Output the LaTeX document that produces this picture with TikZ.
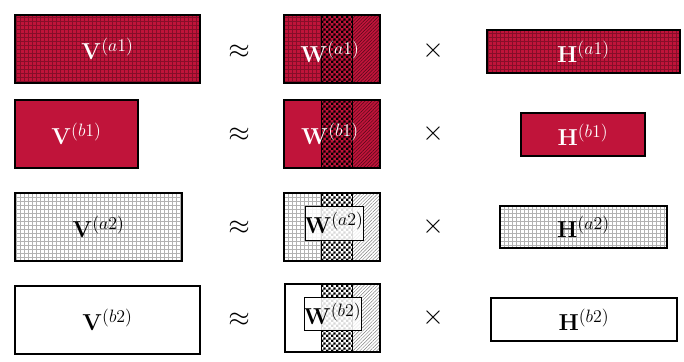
\documentclass[tikz,border=0pt]{standalone}
\usetikzlibrary{patterns,patterns.meta,fit}
\definecolor{crim}{RGB}{192,20,58}
\newcommand{\mlab}[2]{$\mathbf{#1}^{\scalebox{1.12}{$\scriptstyle(#2)$}}$}
\pgfdeclarepattern{name=smallchecker,type=uncolored,
  bottom left={\pgfpoint{0pt}{0pt}},top right={\pgfpoint{3.6pt}{3.6pt}},
  tile size={\pgfpoint{3.6pt}{3.6pt}},
  code={\pgfpathrectangle{\pgfpointorigin}{\pgfpoint{1.8pt}{1.8pt}}
        \pgfpathrectangle{\pgfpoint{1.8pt}{1.8pt}}{\pgfpoint{1.8pt}{1.8pt}}
        \pgfusepath{fill}}}
\tikzset{
  frame/.style={draw=black,line width=1.2pt,inner sep=0pt},
  redgrid/.style={preaction={fill=crim},pattern={Hatch[angle=0,distance=3pt,line width=0.3pt]},pattern color=black!30!crim},
  redplain/.style={fill=crim},
  redcheck/.style={preaction={fill=crim},pattern=smallchecker,pattern color=black},
  reddiag/.style={preaction={fill=crim},pattern={Lines[angle=45,distance=1.8pt,line width=0.35pt]},pattern color=black!60!crim},
  graygrid/.style={preaction={fill=white},pattern={Hatch[angle=0,distance=3pt,line width=0.3pt]},pattern color=black!30},
  graycheck/.style={preaction={fill=white},pattern=smallchecker,pattern color=black},
  graydiag/.style={preaction={fill=white},pattern={Lines[angle=45,distance=1.8pt,line width=0.35pt]},pattern color=black!50},
  whiteplain/.style={fill=white},
  col/.style={inner sep=0pt,draw=black,line width=0.5pt},
  wlbl/.style={text=white,font=\LARGE},
  blbl/.style={text=black,font=\LARGE},
  inbox/.style={draw=black,line width=0.7pt,fill=white,fill opacity=0.85,text opacity=1,inner sep=0pt},
  op/.style={font=\huge},
  opx/.style={font=\huge}
}
\begin{document}
\begin{tikzpicture}[x=0.75pt,y=-0.75pt]
\useasboundingbox (0,0) rectangle (684,361);
% ---------- Row 1
\node[frame,redgrid,fit={(15,15) (200,83)}] (va1) {};
\node[wlbl] at (va1.center) {\mlab{V}{a1}};
\node[col,redgrid,fit={(284,15) (321,83)}] (wa1l) {};
\node[col,redcheck,fit={(321,15) (352,83)}] (wa1m) {};
\node[col,reddiag,fit={(352,15) (380,83)}] (wa1r) {};
\node[frame,fit={(284,15) (380,83)}] (wa1) {};
\node[wlbl] at (330,52) {\mlab{W}{a1}};
\node[frame,redgrid,fit={(487,30) (680,73)}] (ha1) {};
\node[wlbl] at (ha1.center) {\mlab{H}{a1}};
\node[op] (ap1) at (239,52) {$\approx$};
\node[opx] (tm1) at (433,51) {$\times$};
% ---------- Row 2
\node[frame,redplain,fit={(15,100) (138,168)}] (vb1) {};
\node[wlbl] at (vb1.center) {\mlab{V}{b1}};
\node[col,redplain,fit={(284,100) (321,168)}] (wb1l) {};
\node[col,redcheck,fit={(321,100) (352,168)}] (wb1m) {};
\node[col,reddiag,fit={(352,100) (380,168)}] (wb1r) {};
\node[frame,fit={(284,100) (380,168)}] (wb1) {};
\node[wlbl] at (330,134) {\mlab{W}{b1}};
\node[frame,redplain,fit={(521,113) (645,156)}] (hb1) {};
\node[wlbl] at (hb1.center) {\mlab{H}{b1}};
\node[op] (ap2) at (239,135) {$\approx$};
\node[opx] (tm2) at (433,134) {$\times$};
% ---------- Row 3
\node[frame,graygrid,fit={(15,193) (182,261)}] (va2) {};
\node[blbl] at (va2.center) {\mlab{V}{a2}};
\node[col,graygrid,fit={(284,193) (321,261)}] (wa2l) {};
\node[col,graycheck,fit={(321,193) (352,261)}] (wa2m) {};
\node[col,graydiag,fit={(352,193) (380,261)}] (wa2r) {};
\node[frame,fit={(284,193) (380,261)}] (wa2) {};
\node[inbox,fit={(305,206) (363,240)}] (wa2b) {};
\node[blbl] at (wa2b.center) {\mlab{W}{a2}};
\node[frame,graygrid,fit={(500,206) (667,248)}] (ha2) {};
\node[blbl] at (ha2.center) {\mlab{H}{a2}};
\node[op] (ap3) at (239,228) {$\approx$};
\node[opx] (tm3) at (433,227) {$\times$};
% ---------- Row 4
\node[frame,whiteplain,fit={(15,286) (200,354)}] (vb2) {};
\node[blbl] at (vb2.center) {\mlab{V}{b2}};
\node[col,whiteplain,fit={(285,284) (321,352)}] (wb2l) {};
\node[col,graycheck,fit={(321,284) (352,352)}] (wb2m) {};
\node[col,graydiag,fit={(352,284) (380,352)}] (wb2r) {};
\node[frame,fit={(285,284) (380,352)}] (wb2) {};
\node[inbox,fit={(304,297) (361,330)}] (wb2b) {};
\node[blbl] at (wb2b.center) {\mlab{W}{b2}};
\node[frame,whiteplain,fit={(491,298) (677,341)}] (hb2) {};
\node[blbl] at (hb2.center) {\mlab{H}{b2}};
\node[op] (ap4) at (239,320) {$\approx$};
\node[opx] (tm4) at (433,318) {$\times$};
\end{tikzpicture}
\end{document}
